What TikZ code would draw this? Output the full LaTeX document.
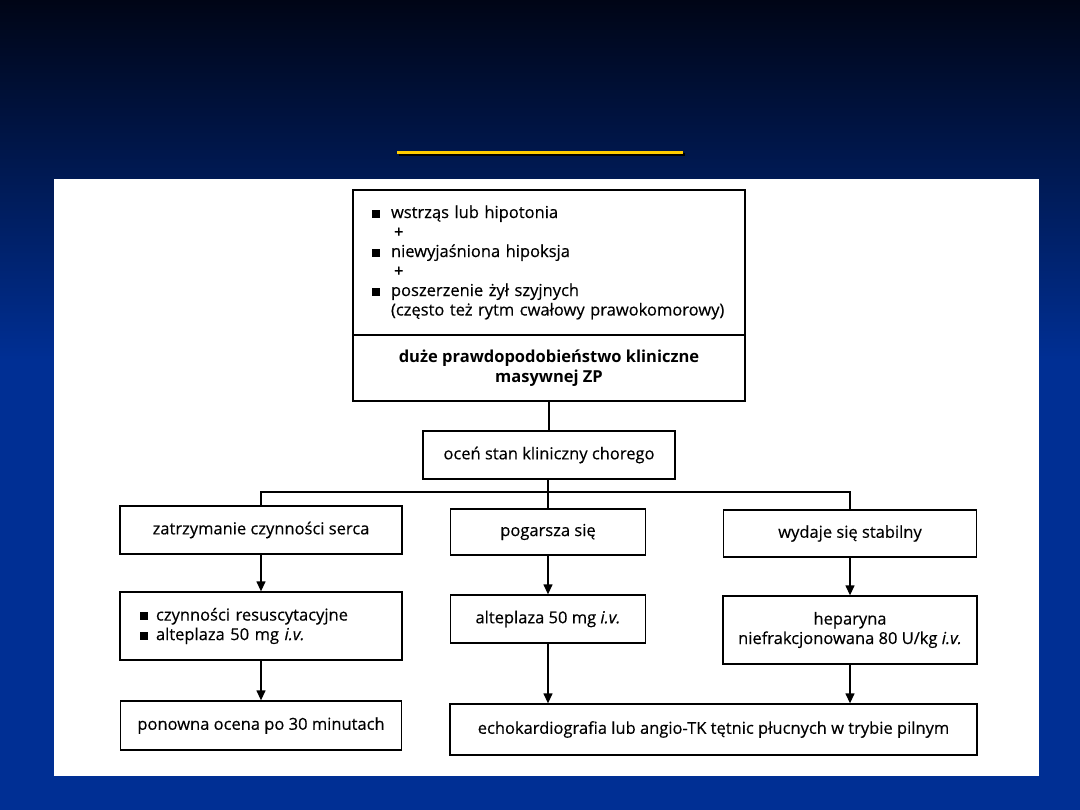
\documentclass[tikz,border=0pt]{standalone}
\usepackage{fontspec}
\setmainfont{Open Sans}[UprightFeatures={FakeBold=0.35},ItalicFeatures={FakeBold=0.35}]
\usetikzlibrary{arrows.meta}

\definecolor{slidetop}{RGB}{0,5,22}
\definecolor{slideblue}{RGB}{0,47,148}
\definecolor{ruleyellow}{RGB}{255,204,0}

\newcommand{\sqbul}{\makebox[19pt][l]{\rule[0.5pt]{8pt}{8pt}}}

\tikzset{
  box/.style={draw, line width=1.3pt, fill=white, align=center, inner sep=0pt,
    font=\fontsize{16.5}{19.5}\selectfont},
  link/.style={line width=1.3pt},
  arr/.style={link, -{Triangle[length=10pt,width=9pt]}},
}

\begin{document}
\begin{tikzpicture}[x=1pt,y=-1pt]
\useasboundingbox (0,0) rectangle (1080,810);

% slide background
\fill[slideblue] (0,0) rectangle (1080,810);
\shade[top color=slidetop, bottom color=slideblue] (0,0) rectangle (1080,360);
\draw[black, line width=3pt] (399,155) -- (685,155);
\draw[ruleyellow, line width=3pt] (397,153) -- (683,153);
\fill[white] (54,179) rectangle (1039,776);

% top box
\node[box, minimum width=392pt, minimum height=145pt, text width=354pt,
  inner xsep=19pt, align=left] (signs) at (549,262.5)
  {\sqbul wstrząs lub hipotonia\\
   \hspace{22pt}+\\
   \sqbul niewyjaśniona hipoksja\\
   \hspace{22pt}+\\
   \sqbul poszerzenie żył szyjnych\\
   \hspace{19pt}(często też rytm cwałowy prawokomorowy)};
\node[box, minimum width=392pt, minimum height=66pt, font=\fontsize{16.5}{19.5}\selectfont\bfseries]
  (prob) at (549,368) {duże prawdopodobieństwo kliniczne\\masywnej ZP};

\node[box, minimum width=252pt, minimum height=48pt] (ocen) at (549,455)
  {oceń stan kliniczny chorego};
\coordinate (split) at (548,492);

% three branches
\node[box, minimum width=282pt, minimum height=48pt] (arrest) at (261,530)
  {zatrzymanie czynności serca};
\node[box, minimum width=195pt, minimum height=46pt] (worse) at (548,532)
  {pogarsza się};
\node[box, minimum width=253pt, minimum height=47pt] (stable) at (850,533.5)
  {wydaje się stabilny};

\node[box, minimum width=282pt, minimum height=68pt, text width=242pt,
  inner xsep=20pt, align=left] (resus) at (261,626)
  {\makebox[16pt][l]{\rule[0.5pt]{8pt}{8pt}}czynności resuscytacyjne\\
   \makebox[16pt][l]{\rule[0.5pt]{8pt}{8pt}}alteplaza 50 mg \textit{i.v.}};
\node[box, minimum width=195pt, minimum height=48pt] (altep) at (548,619)
  {alteplaza 50 mg \textit{i.v.}};
\node[box, minimum width=254pt, minimum height=68pt] (hepar) at (850,630)
  {heparyna\\niefrakcjonowana 80 U/kg \textit{i.v.}};

\node[box, minimum width=281pt, minimum height=49pt] (again) at (261,725.5)
  {ponowna ocena po 30 minutach};
\node[box, minimum width=527pt, minimum height=51pt] (echo) at (713.5,729.5)
  {echokardiografia lub angio-TK tętnic płucnych w trybie pilnym};

% connectors
\draw[link] (prob.south) -- (prob.south |- ocen.north);
\draw[link] (ocen.south -| split) -- (split);
\draw[link] (arrest.north) |- (split) -| (stable.north);
\draw[link] (split) -- (worse.north);

\draw[arr] (arrest.south) -- (resus.north);
\draw[arr] (worse.south) -- (altep.north);
\draw[arr] (stable.south) -- (hepar.north);
\draw[arr] (resus.south) -- (again.north);
\draw[arr] (altep.south) -- (altep.south |- echo.north);
\draw[arr] (hepar.south) -- (hepar.south |- echo.north);
\end{tikzpicture}
\end{document}
